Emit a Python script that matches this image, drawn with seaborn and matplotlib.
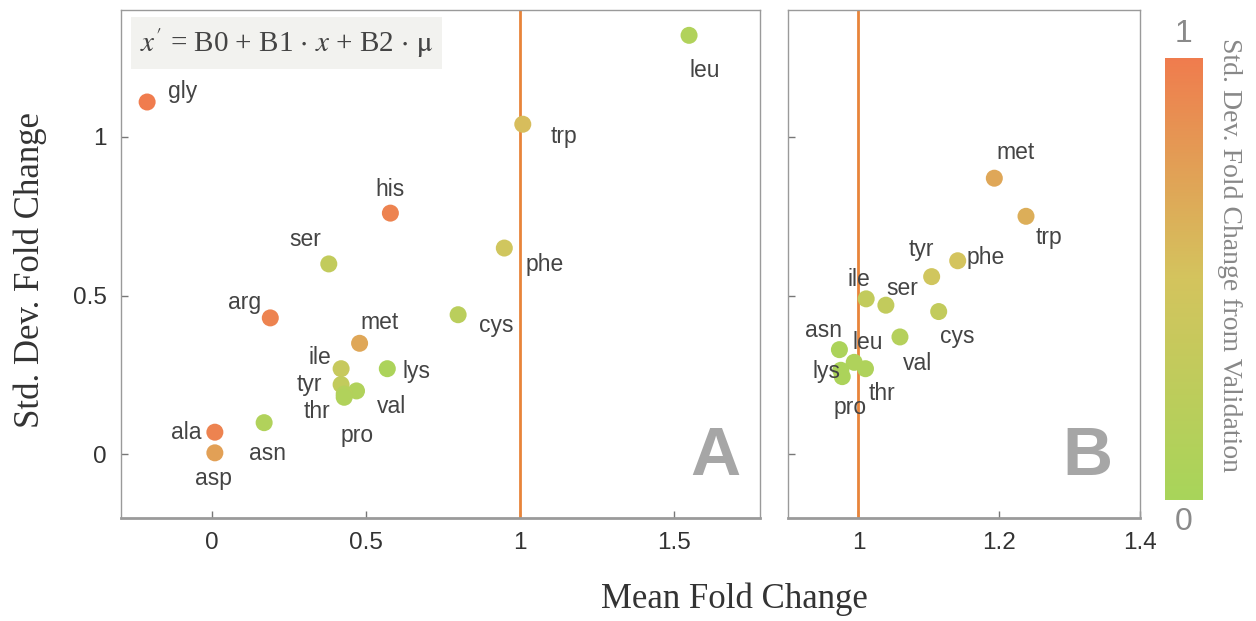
import numpy as np
import pandas as pd
import matplotlib
matplotlib.use("Agg")
import matplotlib.pyplot as plt
from matplotlib.colors import LinearSegmentedColormap, Normalize
import seaborn as sns

# panel A
names_a = ["gly", "leu", "trp", "his", "ser", "phe", "arg", "cys", "met",
           "ile", "lys", "tyr", "val", "thr", "pro", "asn", "ala", "asp"]
mean_a = [-0.21, 1.55, 1.01, 0.58, 0.38, 0.95, 0.19, 0.80, 0.48,
          0.42, 0.57, 0.42, 0.47, 0.43, 0.43, 0.17, 0.01, 0.01]
sd_a = [1.11, 1.32, 1.04, 0.76, 0.60, 0.65, 0.43, 0.44, 0.35,
        0.27, 0.27, 0.22, 0.20, 0.19, 0.18, 0.10, 0.07, 0.005]
dev_a = [1.0, 0.1, 0.55, 0.95, 0.3, 0.45, 0.95, 0.2, 0.7,
         0.35, 0.05, 0.3, 0.1, 0.15, 0.1, 0.1, 0.95, 0.75]

# panel B
names_b = ["met", "trp", "phe", "tyr", "ile", "ser", "cys", "val",
           "asn", "leu", "lys", "thr", "pro"]
mean_b = [1.193, 1.238, 1.141, 1.104, 1.011, 1.039, 1.114, 1.059,
          0.973, 0.994, 0.975, 1.010, 0.977]
sd_b = [0.87, 0.75, 0.61, 0.56, 0.49, 0.47, 0.45, 0.37,
        0.33, 0.29, 0.265, 0.27, 0.245]
dev_b = [0.7, 0.65, 0.5, 0.45, 0.3, 0.3, 0.3, 0.15,
         0.05, 0.08, 0.05, 0.08, 0.05]

# label offsets in pixels (dx, dy)
off_a = {"gly": (35, 11), "leu": (16, -35), "trp": (41, -12), "his": (0, 24),
         "ser": (-23, 24), "phe": (40, -16), "arg": (-26, 15), "cys": (38, -11),
         "met": (20, 21), "ile": (-21, 11), "lys": (29, -3), "tyr": (-32, 0),
         "val": (35, -16), "thr": (-27, -17), "pro": (13, -38), "asn": (3, -31),
         "ala": (-29, 0), "asp": (-1, -26)}
off_b = {"met": (21, 26), "trp": (23, -21), "phe": (28, 3), "tyr": (-10, 27),
         "ile": (-7, 19), "ser": (16, 17), "cys": (19, -25), "val": (18, -27),
         "asn": (-16, 19), "leu": (14, 20), "lys": (-14, -1), "thr": (17, -25),
         "pro": (8, -31)}

sns.set_style("white")
plt.rcParams["font.family"] = ["Liberation Sans", "DejaVu Sans"]
plt.rcParams["mathtext.fontset"] = "stix"

cmap = LinearSegmentedColormap.from_list(
    "grn_org", ["#A8D55A", "#D4C45E", "#F07C4E"])
norm = Normalize(0, 1)

fig = plt.figure(figsize=(12.56, 6.21), dpi=100)
ax_a = fig.add_axes([0.0963, 0.166, 0.5087, 0.818])
ax_b = fig.add_axes([0.6274, 0.166, 0.2803, 0.818])
cax = fig.add_axes([0.9275, 0.195, 0.0295, 0.712])

df_a = pd.DataFrame({"name": names_a, "mean": mean_a, "sd": sd_a, "dev": dev_a})
df_b = pd.DataFrame({"name": names_b, "mean": mean_b, "sd": sd_b, "dev": dev_b})

spine_col = "#9a9a9a"

for ax, df, off in [(ax_a, df_a, off_a), (ax_b, df_b, off_b)]:
    ax.axvline(1, color="#E8843A", lw=2, zorder=1)
    sns.scatterplot(data=df, x="mean", y="sd", hue="dev", palette=cmap,
                    hue_norm=norm, s=150, edgecolor="none", legend=False,
                    ax=ax, zorder=3)
    for _, r in df.iterrows():
        dx, dy = off[r["name"]]
        ax.annotate(r["name"], (r["mean"], r["sd"]), xytext=(dx, dy),
                    textcoords="offset pixels", ha="center", va="center",
                    fontsize=16.5, color="#444444", zorder=4)
    ax.set_ylim(-0.2, 1.4)
    ax.set_yticks([0, 0.5, 1])
    ax.set_xlabel("")
    ax.set_ylabel("")
    for sp in ax.spines.values():
        sp.set_color(spine_col)
        sp.set_linewidth(1.0)
    ax.spines["bottom"].set_linewidth(2.0)
    ax.tick_params(direction="in", length=5, width=1, color="#777777",
                   bottom=True, left=True, top=False, right=False, pad=10)

ax_a.set_xlim(-0.295, 1.78)
ax_a.set_xticks([0, 0.5, 1, 1.5])
ax_a.set_xticklabels(["0", "0.5", "1", "1.5"])
ax_a.set_yticklabels(["0", "0.5", "1"])
ax_b.set_xlim(0.9, 1.4)
ax_b.set_xticks([1, 1.2, 1.4])
ax_b.set_xticklabels(["1", "1.2", "1.4"])
ax_b.set_yticklabels([])
for ax in (ax_a, ax_b):
    for lab in ax.get_xticklabels() + ax.get_yticklabels():
        lab.set_fontsize(17.5)
        lab.set_color("#333333")

ax_a.text(0.03, 0.935, "$x'$ = B0 + B1 $\\cdot$ $x$ + B2 $\\cdot$ $\\mathrm{\\mu}$",
          transform=ax_a.transAxes, fontsize=21, family="Liberation Serif",
          color="#444444", va="center", ha="left", zorder=5,
          bbox=dict(boxstyle="square,pad=0.3", fc="#F2F2EF", ec="none"))
ax_a.text(0.93, 0.12, "A", transform=ax_a.transAxes, fontsize=50,
          fontweight="bold", color="#A6A6A6", ha="center", va="center")
ax_b.text(0.85, 0.12, "B", transform=ax_b.transAxes, fontsize=50,
          fontweight="bold", color="#A6A6A6", ha="center", va="center")

fig.text(0.585, 0.035, "Mean Fold Change", family="Liberation Serif",
         fontsize=25, color="#333333", ha="center", va="center")
fig.text(0.024, 0.565, "Std. Dev. Fold Change", family="Liberation Serif",
         fontsize=25, color="#333333", ha="center", va="center", rotation=90)

grad = np.linspace(0, 1, 256).reshape(-1, 1)
cax.imshow(grad, cmap=cmap, aspect="auto", origin="lower", extent=[0, 1, 0, 1])
cax.set_axis_off()
fig.text(0.9423, 0.945, "1", fontsize=23, color="#8a8a8a", ha="center", va="center")
fig.text(0.9423, 0.16, "0", fontsize=23, color="#8a8a8a", ha="center", va="center")
fig.text(0.979, 0.59, "Std. Dev. Fold Change from Validation",
         family="Liberation Serif", fontsize=20, color="#888888",
         rotation=-90, ha="center", va="center")

fig.savefig("out.png", dpi=100)
